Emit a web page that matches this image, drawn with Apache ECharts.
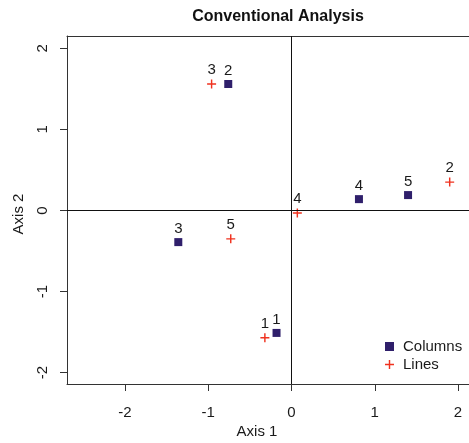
<!DOCTYPE html>
<html><head><meta charset="utf-8">
<script src="https://cdn.jsdelivr.net/npm/echarts@6/dist/echarts.min.js"></script>
<style>html,body{margin:0;padding:0;background:#fff}#c{width:469px;height:443px}</style>
</head><body><div id="c"></div>
<script>
var colNames = ['1','2','3','4','5'];
var colX = [-0.18,-0.76,-1.36,0.81,1.40];
var colY = [-1.51,1.56,-0.39,0.14,0.19];
var lineNames = ['1','2','3','4','5'];
var lineX = [-0.32,1.90,-0.96,0.07,-0.73];
var lineY = [-1.57,0.35,1.56,-0.03,-0.35];
var xTicks = [-2,-1,0,1,2];
var yTicks = [-2,-1,0,1,2];

var FONT = 'Liberation Sans, Arial, sans-serif';
var PURPLE = '#2f1f6b';
var RED = '#f0321f';
var PLUS = 'path://M4.2,0H5.8V10H4.2Z M0,4.2H10V5.8H0Z';

function pts(xs, ys, names){ return xs.map(function(x,i){ return {name:names[i], value:[x, ys[i]]}; }); }

var chart = echarts.init(document.getElementById('c'), null, {renderer:'canvas'});
chart.setOption({
  animation:false,
  backgroundColor:'#fff',
  grid:{left:67, top:36, right:0, bottom:59},
  xAxis:[{
    type:'value', min:-2.697, max:2.132, position:'bottom',
    splitLine:{show:false},
    axisLine:{show:true, onZero:false, lineStyle:{color:'#333', width:1}},
    axisTick:{show:true, length:7, customValues:xTicks, lineStyle:{color:'#333'}},
    axisLabel:{customValues:xTicks, fontSize:15, color:'#1a1a1a', fontFamily:FONT, margin:21}
  },{
    type:'value', min:-2.697, max:2.132, position:'top',
    splitLine:{show:false},
    axisLine:{show:true, onZero:false, lineStyle:{color:'#333', width:1}},
    axisTick:{show:false}, axisLabel:{show:false}
  }],
  yAxis:[{
    type:'value', min:-2.14, max:2.152, position:'left',
    splitLine:{show:false},
    axisLine:{show:true, onZero:false, lineStyle:{color:'#333', width:1}},
    axisTick:{show:true, length:7, customValues:yTicks, lineStyle:{color:'#333'}},
    axisLabel:{customValues:yTicks, rotate:90, fontSize:15, color:'#1a1a1a', fontFamily:FONT, margin:17}
  }],
  legend:{
    orient:'vertical', left:385, top:339, padding:0, itemWidth:9, itemHeight:9, itemGap:3,
    textStyle:{fontSize:15, color:'#1a1a1a', fontFamily:FONT, padding:[0,0,0,4]},
    data:[{name:'Columns', icon:'rect'},{name:'Lines', icon:PLUS}]
  },
  graphic:[
    {type:'text', x:278, y:17, style:{text:'Conventional Analysis', font:'bold 16px '+FONT, fill:'#111', textAlign:'center', textVerticalAlign:'middle'}},
    {type:'text', x:257, y:432, style:{text:'Axis 1', font:'15px '+FONT, fill:'#1a1a1a', textAlign:'center', textVerticalAlign:'middle'}},
    {type:'text', x:19, y:214, rotation:Math.PI/2, style:{text:'Axis 2', font:'15px '+FONT, fill:'#1a1a1a', textAlign:'center', textVerticalAlign:'middle'}}
  ],
  series:[{
    name:'Columns', type:'scatter', symbol:'rect', symbolSize:8,
    itemStyle:{color:PURPLE, opacity:1},
    label:{show:true, position:'top', distance:2, formatter:'{b}', fontSize:15, color:'#1a1a1a', fontFamily:FONT},
    data:pts(colX, colY, colNames),
    markLine:{silent:true, symbol:'none', label:{show:false}, lineStyle:{color:'#111', width:1, type:'solid', opacity:1},
      data:[{xAxis:0},{yAxis:0}]}
  },{
    name:'Lines', type:'scatter', symbol:PLUS, symbolSize:9,
    itemStyle:{color:RED, opacity:1},
    label:{show:true, position:'top', distance:2, formatter:'{b}', fontSize:15, color:'#1a1a1a', fontFamily:FONT},
    data:pts(lineX, lineY, lineNames)
  }]
});
</script></body></html>
